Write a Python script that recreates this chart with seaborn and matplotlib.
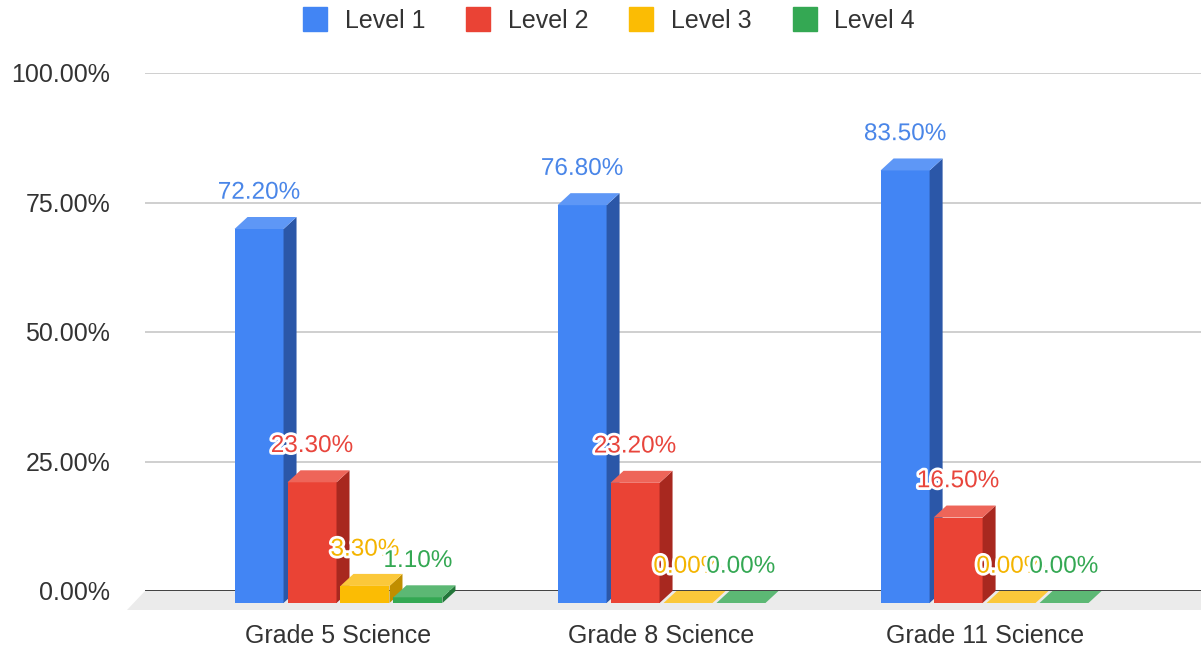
import pandas as pd
import seaborn as sns
import matplotlib.pyplot as plt
import matplotlib.patheffects as pe
from matplotlib.patches import Polygon
from matplotlib.lines import Line2D
from matplotlib.ticker import FuncFormatter
from matplotlib.colors import to_hex

# --- Data ---
grades = ["Grade 5 Science", "Grade 8 Science", "Grade 11 Science"]
levels = ["Level 1", "Level 2", "Level 3", "Level 4"]
level_1 = [72.2, 76.8, 83.5]
level_2 = [23.3, 23.2, 16.5]
level_3 = [3.3, 0.0, 0.0]
level_4 = [1.1, 0.0, 0.0]

# --- Colors (front / side / top faces, labels) ---
front_colors = ["#4285f4", "#ea4335", "#fbbc04", "#34a853"]
side_colors = ["#2b57a8", "#a8281f", "#c08e00", "#23773a"]
top_colors = ["#5e97f6", "#ee6559", "#fbc83a", "#5cb874"]
label_colors = ["#4a86e8", "#e8453c", "#f4b400", "#34a853"]

rows = []
for lvl, vals in zip(levels, [level_1, level_2, level_3, level_4]):
    for g, v in zip(grades, vals):
        rows.append({"Grade": g, "Level": lvl, "Value": v})
df = pd.DataFrame(rows)

# --- Figure setup ---
sns.set_theme(style="white")
plt.rcParams["font.family"] = ["Liberation Sans", "DejaVu Sans"]

fig = plt.figure(figsize=(12.01, 6.47), dpi=100)
ax = fig.add_axes([145 / 1201, 1 - 591 / 647, 1056 / 1201, 518 / 647])

sns.barplot(data=df, x="Grade", y="Value", hue="Level", palette=front_colors,
            saturation=1, width=0.656, gap=0.075, errorbar=None, legend=False, ax=ax)

ax.set_xlim(-0.599, 2.670)
ax.set_ylim(0, 100)


def px_to_data(dx, dy):
    inv = ax.transData.inverted()
    return inv.transform((dx, dy)) - inv.transform((0, 0))


# depth of the fake 3D boxes and the floor, in pixels -> data units
ddx, ddy = px_to_data(13, 12)
fdx, fdy = px_to_data(18, 19)

# --- Floor ---
x0, x1 = ax.get_xlim()
floor = Polygon([(x0, 0), (x1 + 1, 0), (x1 + 1 - fdx, -fdy), (x0 - fdx, -fdy)],
                closed=True, facecolor="#ebebeb", edgecolor="none", zorder=1, clip_on=False)
ax.add_patch(floor)

# --- 3D bars ---
bars = [p for p in ax.patches if p is not floor]
for p in bars:
    k = front_colors.index(to_hex(p.get_facecolor()))
    x, w, h = p.get_x(), p.get_width(), p.get_height()
    z = 3 + 0.1 * k
    p.set_y(-ddy)
    p.set_zorder(z)
    p.set_edgecolor("none")
    p.set_clip_on(False)

    side = Polygon([(x + w, -ddy), (x + w + ddx, 0), (x + w + ddx, h), (x + w, h - ddy)],
                   closed=True, facecolor=side_colors[k], edgecolor="none", zorder=z, clip_on=False)
    top = Polygon([(x, h - ddy), (x + w, h - ddy), (x + w + ddx, h), (x + ddx, h)],
                  closed=True, facecolor=top_colors[k], edgecolor="none", zorder=z, clip_on=False)
    ax.add_patch(side)
    ax.add_patch(top)

    ax.annotate(f"{h:.2f}%", (x + w / 2, h), xytext=(0, 17.5), textcoords="offset points",
                ha="center", va="center", fontsize=17.5, color=label_colors[k], zorder=6,
                annotation_clip=False,
                path_effects=[pe.withStroke(linewidth=4, foreground="white")])

# --- Axes styling ---
ax.set_yticks([0, 25, 50, 75, 100])
ax.yaxis.set_major_formatter(FuncFormatter(lambda v, _: f"{v:.2f}%"))
ax.grid(axis="y", color="#cccccc", linewidth=1.3)
ax.grid(axis="x", visible=False)
ax.set_axisbelow(True)
ax.axhline(0, color="#333333", linewidth=2, zorder=2)
ax.set_xlabel("")
ax.set_ylabel("")
for s in ax.spines.values():
    s.set_visible(False)
ax.tick_params(axis="y", length=0, pad=25, labelsize=18, labelcolor="#333333")
ax.tick_params(axis="x", length=0, pad=23.5, labelsize=18, labelcolor="#333333")

# --- Legend ---
handles = [Line2D([], [], marker="s", linestyle="", markersize=17,
                  markerfacecolor=c, markeredgecolor=c) for c in front_colors]
fig.legend(handles, levels, loc="center", bbox_to_anchor=(609 / 1201, 1 - 21 / 647), ncol=4,
           frameon=False, fontsize=18, handletextpad=0.7, columnspacing=1.6, handlelength=1.0,
           labelcolor="#333333")

fig.savefig("out.png", dpi=100)
